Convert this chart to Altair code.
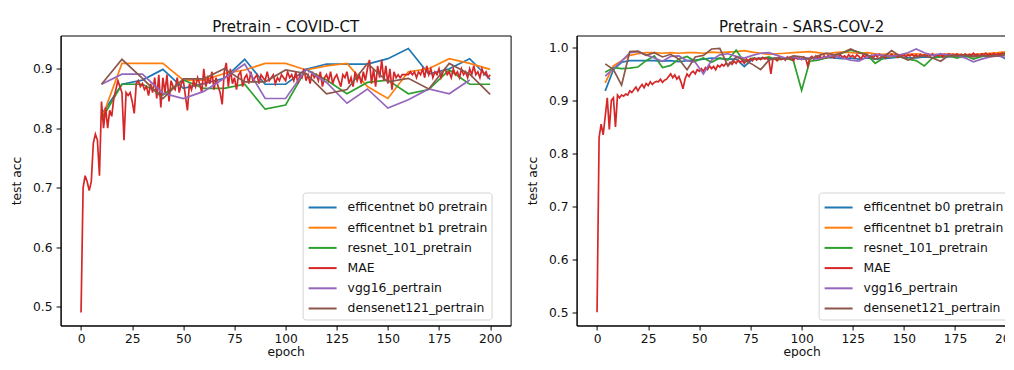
import altair as alt
import pandas as pd

names = ["efficentnet b0 pretrain", "efficentnet b1 pretrain", "resnet_101_pretrain",
         "MAE", "vgg16_pertrain", "densenet121_pertrain"]
colors = ["#1f77b4", "#ff7f0e", "#2ca02c", "#d62728", "#9467bd", "#8c564b"]

# ---------------- Pretrain - COVID-CT ----------------
ct_ep_cnn = list(range(10, 201, 10))
ct_ep_vgg = list(range(10, 191, 10))
ct_ep_mae = list(range(0, 201))

ct_b0 = [0.823, 0.874, 0.881, 0.899, 0.867, 0.875, 0.884, 0.916, 0.874, 0.874,
         0.899, 0.908, 0.908, 0.908, 0.917, 0.934, 0.891, 0.900, 0.917, 0.882]
ct_b1 = [0.815, 0.909, 0.909, 0.909, 0.881, 0.881, 0.892, 0.898, 0.909, 0.909,
         0.898, 0.905, 0.909, 0.870, 0.850, 0.895, 0.900, 0.917, 0.909, 0.899]
ct_resnet = [0.815, 0.874, 0.874, 0.856, 0.881, 0.867, 0.867, 0.874, 0.832, 0.839,
             0.899, 0.881, 0.858, 0.877, 0.881, 0.858, 0.865, 0.898, 0.874, 0.874]
ct_vgg = [0.874, 0.891, 0.891, 0.859, 0.850, 0.862, 0.884, 0.908, 0.850, 0.850,
          0.899, 0.877, 0.842, 0.866, 0.834, 0.848, 0.866, 0.858, 0.881]
ct_dense = [0.874, 0.916, 0.884, 0.850, 0.883, 0.883, 0.900, 0.878, 0.878, 0.898,
            0.892, 0.858, 0.865, 0.909, 0.878, 0.884, 0.866, 0.909, 0.891, 0.857]
ct_mae = [
    0.49, 0.70, 0.72, 0.71, 0.695, 0.71, 0.775, 0.79, 0.78, 0.72,
    0.845, 0.80, 0.835, 0.80, 0.83, 0.82, 0.85, 0.865, 0.88, 0.87,
    0.86, 0.78, 0.86, 0.855, 0.86, 0.845, 0.825, 0.875, 0.88, 0.87,
    0.875, 0.865, 0.87, 0.855, 0.875, 0.86, 0.885, 0.85, 0.89, 0.835,
    0.885, 0.86, 0.89, 0.845, 0.88, 0.87, 0.865, 0.885, 0.86, 0.875,
    0.88, 0.855, 0.83, 0.875, 0.865, 0.88, 0.87, 0.885, 0.875, 0.86,
    0.90, 0.87, 0.885, 0.875, 0.895, 0.865, 0.885, 0.87, 0.86, 0.84,
    0.895, 0.91, 0.87, 0.90, 0.875, 0.885, 0.865, 0.89, 0.895, 0.87,
    0.885, 0.89, 0.875, 0.895, 0.88, 0.885, 0.89, 0.875, 0.89, 0.885,
    0.88, 0.895, 0.88, 0.885, 0.89, 0.875, 0.885, 0.88, 0.89, 0.885,
    0.88, 0.895, 0.885, 0.89, 0.88, 0.895, 0.875, 0.89, 0.885, 0.90,
    0.88, 0.89, 0.875, 0.895, 0.885, 0.89, 0.88, 0.895, 0.87, 0.885,
    0.89, 0.88, 0.895, 0.875, 0.885, 0.89, 0.88, 0.87, 0.89, 0.885,
    0.895, 0.875, 0.885, 0.87, 0.895, 0.88, 0.89, 0.875, 0.895, 0.88,
    0.90, 0.915, 0.875, 0.90, 0.87, 0.905, 0.885, 0.915, 0.88, 0.905,
    0.875, 0.90, 0.865, 0.895, 0.885, 0.89, 0.885, 0.89, 0.89, 0.89,
    0.89, 0.895, 0.89, 0.895, 0.885, 0.895, 0.89, 0.90, 0.885, 0.905,
    0.89, 0.90, 0.885, 0.895, 0.89, 0.90, 0.885, 0.895, 0.90, 0.89,
    0.895, 0.885, 0.90, 0.89, 0.895, 0.885, 0.90, 0.89, 0.895, 0.885,
    0.90, 0.89, 0.905, 0.89, 0.895, 0.885, 0.90, 0.89, 0.895, 0.885,
    0.89]

# ---------------- Pretrain - SARS-COV-2 ----------------
sa_ep_cnn = list(range(4, 201, 4))
sa_ep_mae = list(range(0, 201))

sa_b0 = [0.918, 0.958, 0.972, 0.975, 0.975, 0.975, 0.975, 0.974, 0.975, 0.973,
         0.975, 0.976, 0.978, 0.980, 0.979, 0.978, 0.978, 0.964, 0.978, 0.980,
         0.979, 0.980, 0.978, 0.980, 0.978, 0.979, 0.980, 0.981, 0.980, 0.979,
         0.980, 0.978, 0.980, 0.978, 0.979, 0.980, 0.982, 0.981, 0.980, 0.982,
         0.981, 0.983, 0.982, 0.984, 0.982, 0.984, 0.983, 0.985, 0.986, 0.978]
sa_b1 = [0.933, 0.965, 0.975, 0.985, 0.988, 0.990, 0.990, 0.989, 0.990, 0.989,
         0.990, 0.990, 0.989, 0.991, 0.990, 0.991, 0.992, 0.994, 0.991, 0.989,
         0.987, 0.988, 0.989, 0.990, 0.991, 0.992, 0.990, 0.988, 0.990, 0.991,
         0.990, 0.989, 0.990, 0.988, 0.987, 0.988, 0.986, 0.987, 0.988, 0.986,
         0.987, 0.986, 0.988, 0.987, 0.986, 0.987, 0.988, 0.989, 0.990, 0.992]
sa_resnet = [0.953, 0.962, 0.960, 0.961, 0.963, 0.975, 0.984, 0.962, 0.966, 0.978,
             0.983, 0.974, 0.980, 0.972, 0.980, 0.976, 0.995, 0.972, 0.980, 0.978,
             0.982, 0.976, 0.980, 0.975, 0.919, 0.974, 0.976, 0.980, 0.984, 0.990,
             0.995, 0.991, 0.986, 0.970, 0.980, 0.983, 0.982, 0.978, 0.975, 0.965,
             0.980, 0.982, 0.984, 0.980, 0.985, 0.978, 0.983, 0.985, 0.986, 0.990]
sa_vgg = [0.946, 0.960, 0.974, 0.990, 0.992, 0.986, 0.980, 0.974, 0.983, 0.984,
          0.975, 0.972, 0.950, 0.976, 0.986, 0.988, 0.983, 0.980, 0.985, 0.989,
          0.990, 0.985, 0.980, 0.982, 0.978, 0.980, 0.978, 0.982, 0.985, 0.980,
          0.976, 0.974, 0.982, 0.987, 0.985, 0.983, 0.986, 0.990, 0.997, 0.990,
          0.985, 0.988, 0.986, 0.984, 0.980, 0.973, 0.978, 0.982, 0.984, 0.981]
sa_dense = [0.969, 0.958, 0.929, 0.992, 0.993, 0.985, 0.990, 0.982, 0.987, 0.978,
            0.958, 0.982, 0.985, 0.997, 0.998, 0.965, 0.982, 0.976, 0.968, 0.958,
            0.976, 0.980, 0.978, 0.984, 0.982, 0.978, 0.984, 0.989, 0.986, 0.990,
            0.997, 0.990, 0.986, 0.978, 0.982, 0.994, 0.984, 0.976, 0.982, 0.984,
            0.980, 0.974, 0.985, 0.984, 0.986, 0.982, 0.985, 0.983, 0.984, 0.986]
sa_mae = [
    0.50, 0.83, 0.855, 0.835, 0.87, 0.905, 0.845, 0.90, 0.905, 0.85,
    0.91, 0.905, 0.91, 0.908, 0.912, 0.91, 0.918, 0.915, 0.92, 0.925,
    0.918, 0.925, 0.93, 0.924, 0.932, 0.928, 0.935, 0.93, 0.934, 0.936,
    0.935, 0.94, 0.934, 0.938, 0.94, 0.945, 0.95, 0.943, 0.948, 0.94,
    0.945, 0.935, 0.922, 0.94, 0.95, 0.945, 0.952, 0.955, 0.95, 0.958,
    0.955, 0.96, 0.955, 0.962, 0.958, 0.965, 0.96, 0.964, 0.958, 0.966,
    0.963, 0.968, 0.965, 0.97, 0.966, 0.972, 0.968, 0.974, 0.97, 0.976,
    0.972, 0.975, 0.97, 0.978, 0.974, 0.979, 0.975, 0.98, 0.976, 0.98,
    0.977, 0.981, 0.978, 0.98, 0.976, 0.95, 0.978, 0.98, 0.975, 0.981,
    0.977, 0.98, 0.976, 0.982, 0.978, 0.98, 0.975, 0.982, 0.978, 0.98,
    0.977, 0.982, 0.979, 0.965, 0.98, 0.983, 0.978, 0.984, 0.98, 0.983,
    0.979, 0.984, 0.98, 0.985, 0.981, 0.984, 0.98, 0.985, 0.982, 0.986,
    0.981, 0.984, 0.98, 0.986, 0.982, 0.985, 0.98, 0.986, 0.983, 0.978,
    0.985, 0.982, 0.987, 0.981, 0.985, 0.98, 0.986, 0.982, 0.987, 0.983,
    0.985, 0.98, 0.986, 0.982, 0.987, 0.983, 0.986, 0.981, 0.985, 0.983,
    0.987, 0.982, 0.986, 0.984, 0.987, 0.983, 0.986, 0.982, 0.987, 0.984,
    0.986, 0.983, 0.987, 0.984, 0.988, 0.983, 0.986, 0.984, 0.988, 0.982,
    0.987, 0.985, 0.988, 0.984, 0.987, 0.985, 0.988, 0.984, 0.987, 0.985,
    0.988, 0.984, 0.987, 0.985, 0.989, 0.985, 0.987, 0.984, 0.988, 0.986,
    0.989, 0.985, 0.988, 0.986, 0.989, 0.986, 0.988, 0.987, 0.989, 0.987,
    0.99]

x_ticks = [0, 25, 50, 75, 100, 125, 150, 175, 200]
ct_y_ticks = [0.5, 0.6, 0.7, 0.8, 0.9]
sa_y_ticks = [0.5, 0.6, 0.7, 0.8, 0.9, 1.0]


def frame(series):
    rows = []
    for i, (eps, vals) in enumerate(series):
        for e, v in zip(eps, vals):
            rows.append({"epoch": e, "acc": v, "model": names[i], "k": i})
    return pd.DataFrame(rows)


ct_df = frame([(ct_ep_cnn, ct_b0), (ct_ep_cnn, ct_b1), (ct_ep_cnn, ct_resnet),
               (ct_ep_mae, ct_mae), (ct_ep_vgg, ct_vgg), (ct_ep_cnn, ct_dense)])
sa_df = frame([(sa_ep_cnn, sa_b0), (sa_ep_cnn, sa_b1), (sa_ep_cnn, sa_resnet),
               (sa_ep_mae, sa_mae), (sa_ep_cnn, sa_vgg), (sa_ep_cnn, sa_dense)])

FONT = "DejaVu Sans"
FS = 12.3


def panel(df, title, ydom, yticks):
    legend = alt.Legend(
        orient="none", legendX=242, legendY=157, padding=4, title=None,
        fillColor="white", strokeColor="#d4d4d4", cornerRadius=3,
        symbolType="M-0.9,0H1.9", symbolSize=400, symbolStrokeWidth=2,
        labelFontSize=12.4, labelFont=FONT, labelColor="#111",
        rowPadding=2.2, labelOffset=19, labelLimit=300,
    )
    base = alt.Chart(df).mark_line(strokeWidth=1.7, clip=True).encode(
        x=alt.X("epoch:Q", title="epoch",
                scale=alt.Scale(domain=[-10, 210], nice=False, zero=False),
                axis=alt.Axis(values=x_ticks, format="d", titlePadding=0.5,
                              labelPadding=2.5)),
        y=alt.Y("acc:Q", title="test acc",
                scale=alt.Scale(domain=ydom, nice=False, zero=False),
                axis=alt.Axis(values=yticks, format=".1f", titlePadding=9)),
        color=alt.Color("model:N", scale=alt.Scale(domain=names, range=colors),
                        legend=legend),
        order=alt.Order("epoch:Q"),
    )
    layers = [base.transform_filter(alt.datum.k == i) for i in range(6)]
    return alt.layer(*layers).properties(
        width=450, height=290,
        title=alt.TitleParams(title, fontSize=15.0, font=FONT, fontWeight="normal",
                              color="#111", offset=1, anchor="middle"),
    )


left = panel(ct_df, "Pretrain - COVID-CT", [0.468, 0.956], ct_y_ticks)
right = panel(sa_df, "Pretrain - SARS-COV-2", [0.475, 1.0225], sa_y_ticks)

chart = alt.hconcat(left, right, spacing=66, bounds="flush").resolve_scale(
    color="independent", y="independent", x="independent"
).resolve_legend(color="independent").properties(
    padding={"left": 1.6, "top": 10.5, "right": -22.5, "bottom": -1}
).configure_view(
    stroke="black", strokeWidth=1
).configure_axis(
    grid=False, domainColor="black", tickColor="black", tickSize=4.5,
    labelPadding=4, labelFontSize=FS, labelFont=FONT, labelColor="#111",
    titleFontSize=FS, titleFont=FONT, titleFontWeight="normal", titleColor="#111",
)

chart.save("out.html", embed_options={"renderer": "svg", "actions": False})
